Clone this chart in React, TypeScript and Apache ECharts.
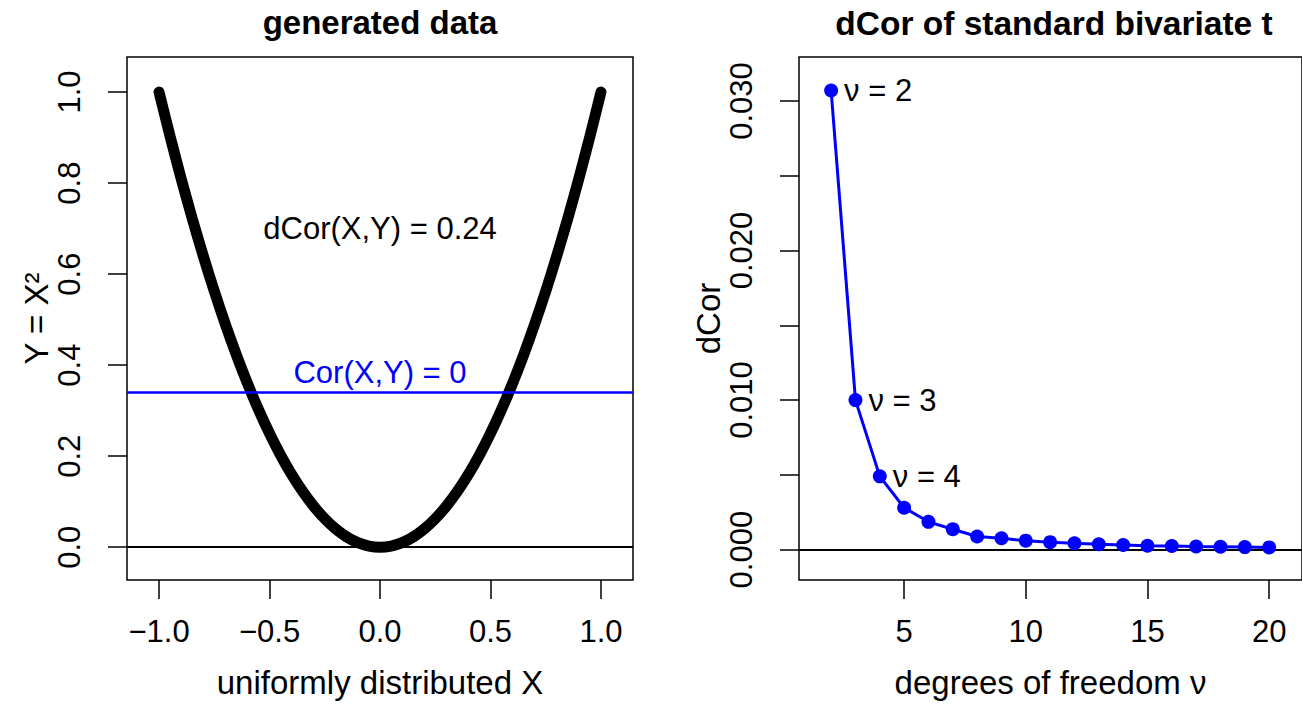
import React, { useEffect, useRef } from "react";
import * as echarts from "echarts";

// Left panel: generated data Y = X^2
const genX = [
  -1, -0.95, -0.9, -0.85, -0.8, -0.75, -0.7, -0.65, -0.6, -0.55, -0.5, -0.45, -0.4, -0.35, -0.3, -0.25, -0.2, -0.15, -0.1, -0.05,
  0, 0.05, 0.1, 0.15, 0.2, 0.25, 0.3, 0.35, 0.4, 0.45, 0.5, 0.55, 0.6, 0.65, 0.7, 0.75, 0.8, 0.85, 0.9, 0.95, 1,
];
const genY = [
  1, 0.9025, 0.81, 0.7225, 0.64, 0.5625, 0.49, 0.4225, 0.36, 0.3025, 0.25, 0.2025, 0.16, 0.1225, 0.09, 0.0625, 0.04, 0.0225, 0.01, 0.0025,
  0, 0.0025, 0.01, 0.0225, 0.04, 0.0625, 0.09, 0.1225, 0.16, 0.2025, 0.25, 0.3025, 0.36, 0.4225, 0.49, 0.5625, 0.64, 0.7225, 0.81, 0.9025, 1,
];
const corLevel = 0.337;
const dcorAnnotation = [0, 0.7];
const dcorText = "dCor(X,Y) = 0.24";
const corText = "Cor(X,Y) = 0";

// Right panel: dCor of standard bivariate t
const dfValues = [2, 3, 4, 5, 6, 7, 8, 9, 10, 11, 12, 13, 14, 15, 16, 17, 18, 19, 20];
const dcorValues = [
  0.0307, 0.01, 0.0049, 0.0028, 0.00186, 0.00136, 0.00088, 0.00076, 0.0006, 0.0005, 0.00043, 0.00036, 0.00031, 0.00026,
  0.00024, 0.00021, 0.00019, 0.00017, 0.00015,
];
const pointLabels = ["ν = 2", "ν = 3", "ν = 4"];

// Tick values
const leftXTicks = [-1, -0.5, 0, 0.5, 1];
const leftYTicks = [0, 0.2, 0.4, 0.6, 0.8, 1];
const rightXTicks = [5, 10, 15, 20];
const rightYTicks = [0, 0.005, 0.01, 0.015, 0.02, 0.025, 0.03];
const rightYLabels = [0, 0.01, 0.02, 0.03];

const FONT = "'Liberation Sans', Arial, Helvetica, sans-serif";
const BLUE = "#0000FF";

export default function App() {
  const ref = useRef<HTMLDivElement>(null);

  useEffect(() => {
    if (!ref.current) return;
    const chart = echarts.init(ref.current, undefined, { renderer: "svg" });

    const tickStyle = { show: true, inside: false, length: 19, lineStyle: { color: "#000", width: 1.5 } };
    const labelBase = { color: "#000", fontSize: 31, fontFamily: FONT };
    const nameStyle = { color: "#000", fontSize: 33, fontFamily: FONT };
    const noLine = { show: false, onZero: false };

    const option: any = {
      animation: false,
      textStyle: { fontFamily: FONT },
      title: [
        {
          text: "generated data",
          left: 375,
          textAlign: "center",
          top: 1,
          textStyle: { fontSize: 33, fontWeight: "bold", color: "#000", fontFamily: FONT },
        },
        {
          text: "dCor of standard bivariate t",
          left: 1049,
          textAlign: "center",
          top: 1,
          textStyle: { fontSize: 33.5, fontWeight: "bold", color: "#000", fontFamily: FONT },
        },
      ],
      grid: [
        { left: 127, top: 57, width: 506, height: 523, show: true, borderColor: "#000", borderWidth: 1.5, backgroundColor: "transparent" },
        { left: 799, top: 57, width: 506, height: 523, show: true, borderColor: "#000", borderWidth: 1.5, backgroundColor: "transparent" },
      ],
      xAxis: [
        {
          type: "value",
          gridIndex: 0,
          min: -1.145,
          max: 1.145,
          axisLine: noLine,
          splitLine: { show: false },
          axisTick: { ...tickStyle, customValues: leftXTicks },
          axisLabel: {
            ...labelBase,
            margin: 36,
            customValues: leftXTicks,
            formatter: (v: number) => (v < 0 ? "\u2212" + Math.abs(v).toFixed(1) : v.toFixed(1)),
          },
          name: "uniformly distributed X",
          nameLocation: "middle",
          nameGap: 86,
          nameTextStyle: nameStyle,
        },
        {
          type: "value",
          gridIndex: 1,
          min: 0.68,
          max: 21.35,
          axisLine: noLine,
          splitLine: { show: false },
          axisTick: { ...tickStyle, customValues: rightXTicks },
          axisLabel: { ...labelBase, margin: 36, customValues: rightXTicks, formatter: (v: number) => String(v) },
          name: "degrees of freedom ν",
          nameLocation: "middle",
          nameGap: 86,
          nameTextStyle: nameStyle,
        },
      ],
      yAxis: [
        {
          type: "value",
          gridIndex: 0,
          min: -0.072,
          max: 1.077,
          axisLine: noLine,
          splitLine: { show: false },
          axisTick: { ...tickStyle, customValues: leftYTicks },
          axisLabel: {
            ...labelBase,
            rotate: 90,
            margin: 42,
            customValues: leftYTicks,
            formatter: (v: number) => v.toFixed(1),
          },
          name: "Y = X²",
          nameLocation: "middle",
          nameRotate: 90,
          nameGap: 74,
          nameTextStyle: nameStyle,
        },
        {
          type: "value",
          gridIndex: 1,
          min: -0.00203,
          max: 0.03294,
          axisLine: noLine,
          splitLine: { show: false },
          axisTick: { ...tickStyle, customValues: rightYTicks },
          axisLabel: {
            ...labelBase,
            rotate: 90,
            margin: 42,
            customValues: rightYLabels,
            formatter: (v: number) => v.toFixed(3),
          },
          name: "dCor",
          nameLocation: "middle",
          nameRotate: 90,
          nameGap: 73,
          nameTextStyle: nameStyle,
        },
      ],
      series: [
        {
          type: "line",
          xAxisIndex: 0,
          yAxisIndex: 0,
          data: genX.map((x, i) => [x, genY[i]]),
          showSymbol: false,
          symbol: "none",
          smooth: 0.2,
          lineStyle: { color: "#000", width: 11, cap: "round", join: "round" },
          z: 2,
          markLine: {
            silent: true,
            symbol: "none",
            label: { show: false },
            data: [
              { yAxis: 0, lineStyle: { color: "#000", width: 2, type: "solid" } },
              { yAxis: corLevel, lineStyle: { color: BLUE, width: 2.5, type: "solid" } },
            ],
            z: 5,
          },
        },
        {
          type: "scatter",
          xAxisIndex: 0,
          yAxisIndex: 0,
          data: [dcorAnnotation],
          symbolSize: 0,
          itemStyle: { opacity: 1 },
          label: { show: true, position: "inside", formatter: dcorText, ...labelBase, textBorderWidth: 0 },
        },
        {
          type: "scatter",
          xAxisIndex: 0,
          yAxisIndex: 0,
          data: [[0, corLevel]],
          symbolSize: 0,
          itemStyle: { opacity: 1 },
          label: { show: true, position: "top", distance: 6, formatter: corText, ...labelBase, color: BLUE },
        },
        {
          type: "line",
          xAxisIndex: 1,
          yAxisIndex: 1,
          data: dfValues.map((d, i) => {
            const item: any = { value: [d, dcorValues[i]] };
            if (i < pointLabels.length) {
              item.label = { show: true, position: "right", distance: 6, formatter: pointLabels[i], ...labelBase };
            }
            return item;
          }),
          symbol: "circle",
          symbolSize: 14,
          showSymbol: true,
          itemStyle: { color: BLUE },
          lineStyle: { color: BLUE, width: 3 },
          z: 3,
          markLine: {
            silent: true,
            symbol: "none",
            label: { show: false },
            data: [{ yAxis: 0, lineStyle: { color: "#000", width: 2, type: "solid" } }],
            z: 2,
          },
        },
      ],
    };

    chart.setOption(option);
    return () => chart.dispose();
  }, []);

  return <div ref={ref} style={{ position: "fixed", left: 0, top: 0, width: 1302, height: 707, background: "#fff" }} />;
}
